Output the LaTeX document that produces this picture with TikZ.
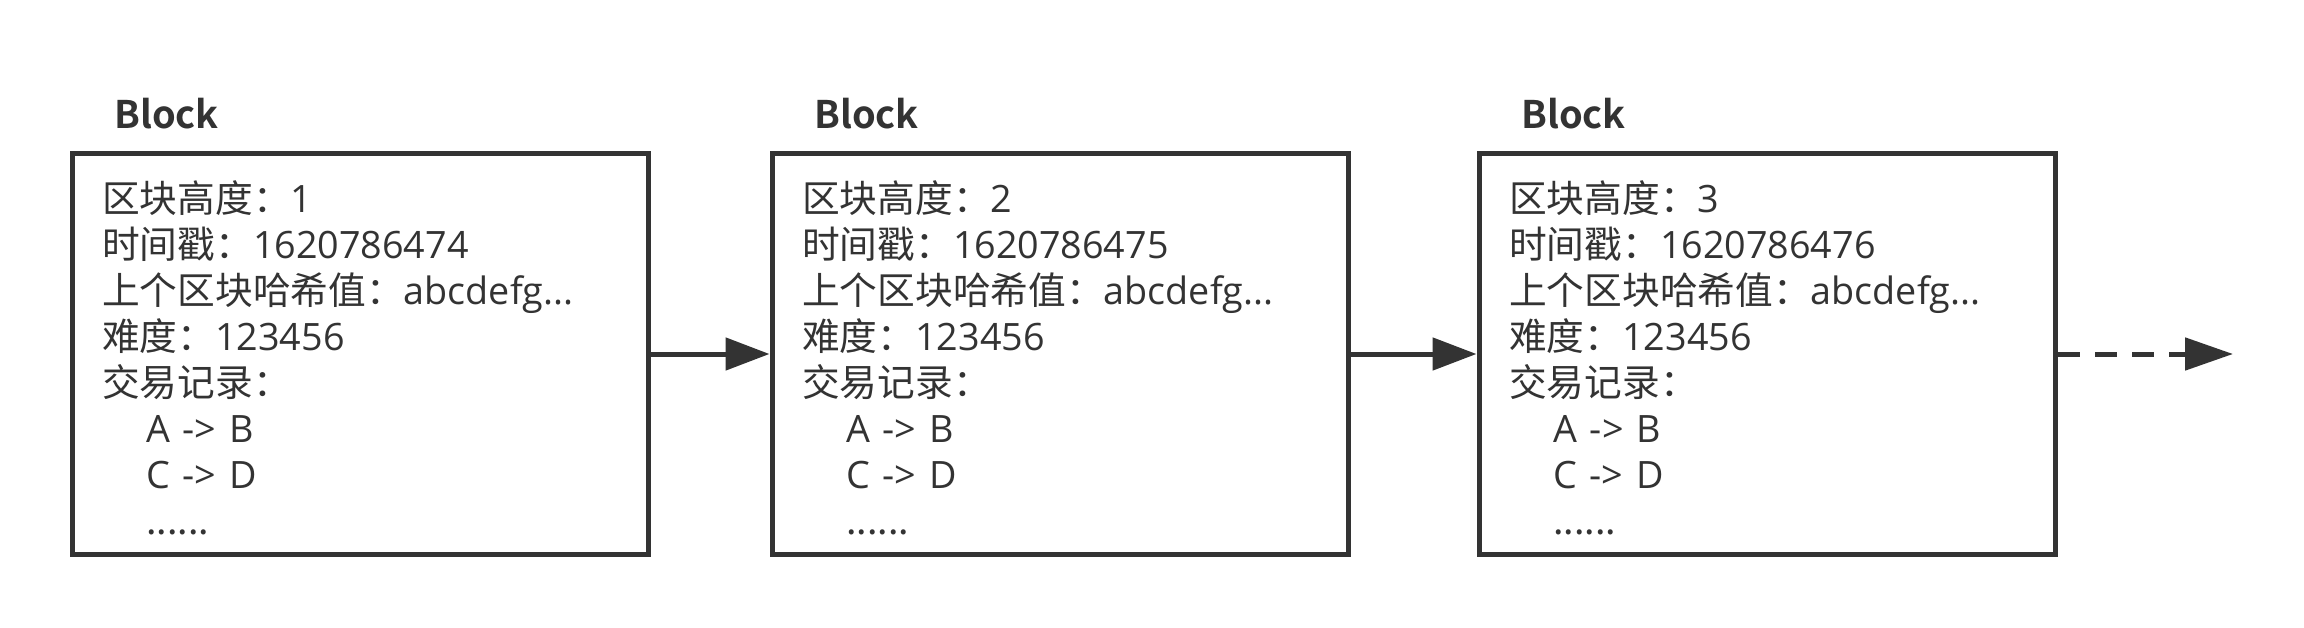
\documentclass[tikz,border=0pt]{standalone}
\usepackage{fontspec}
\setmainfont{Noto Sans CJK SC}[BoldFont={Noto Sans CJK SC Bold}]
\newfontfamily\lat{Open Sans}
\usetikzlibrary{arrows.meta}
\definecolor{ink}{HTML}{333333}
\newcommand\arrowtext[2]{{\lat #1\hspace{0.34em}->\hspace{0.34em}#2}}
\tikzset{
  blockbox/.style={draw=ink, line width=5pt, minimum width=576.5pt, minimum height=401pt, inner sep=0pt},
  blocktitle/.style={anchor=base west, inner sep=0pt, text=ink, font=\fontsize{38}{44}\selectfont\bfseries},
  blocktext/.style={anchor=north west, inner sep=0pt, align=left, text=ink, font=\fontsize{37.7}{46}\selectfont},
  link/.style={draw=ink, line width=5pt, -{Triangle[length=44pt,width=32pt]}},
  nextlink/.style={draw=ink, line width=5pt, dash pattern=on 22pt off 15pt, -{Triangle[length=48pt,width=32pt]}}
}
\begin{document}
\begin{tikzpicture}[x=1pt,y=-1pt]
\useasboundingbox[fill=white] (0,0) rectangle (2304,628);
\foreach \i/\dx/\h/\ts in {1/0/1/1620786474, 2/700/2/1620786475, 3/1407/3/1620786476}{
  \node[blockbox] (b\i) at (360.25+\dx,354) {};
  \node[blocktitle] (t\i) at (114+\dx,129) {Block};
  \node[blocktext] (c\i) at (102+\dx,174) {\rule{0pt}{38pt}区块高度：{\lat\h}\\时间戳：{\lat\ts}\\上个区块哈希值：{\lat abcdefg...}\\难度：{\lat 123456}\\交易记录：\\\hspace{44pt}\arrowtext{A}{B}\\\hspace{44pt}\arrowtext{C}{D}\\\hspace{44pt}......};
}
\coordinate (more) at (2233,354);
\draw[link] (b1.east) -- (b2.west);
\draw[link] (b2.east) -- (b3.west);
\draw[nextlink] (b3.east) -- (more);
\end{tikzpicture}
\end{document}
